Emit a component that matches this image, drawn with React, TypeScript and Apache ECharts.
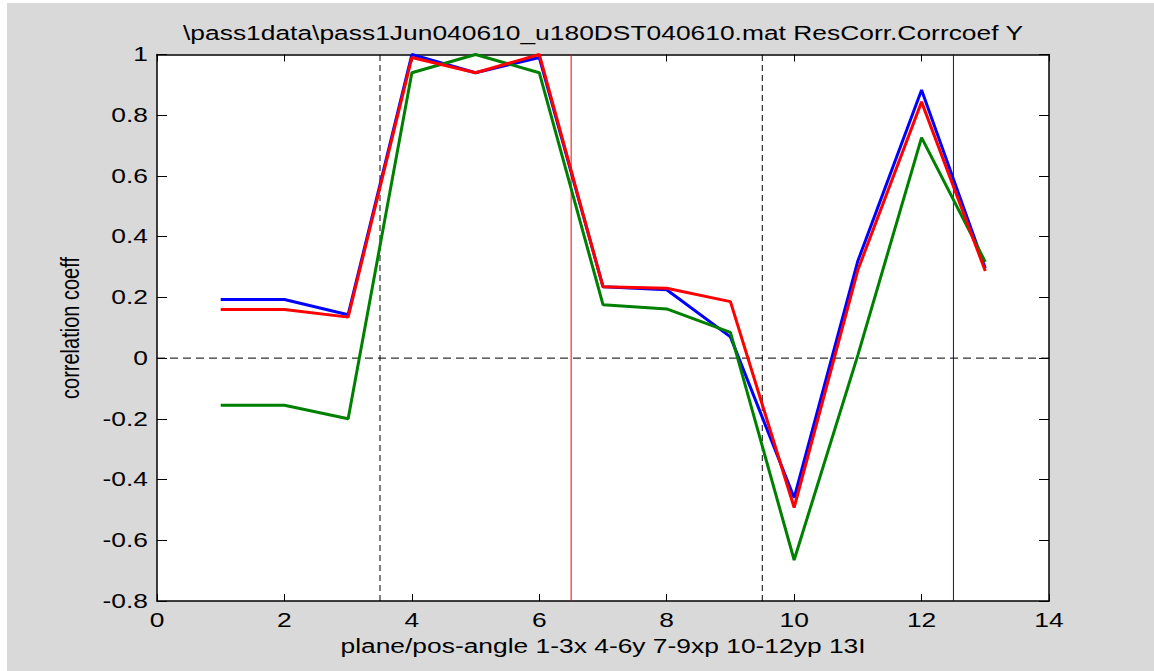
import React, { useEffect, useRef } from "react";
import * as echarts from "echarts";

const xs = [1, 2, 3, 4, 5, 6, 7, 8, 9, 10, 11, 12, 13];
const blueVals = [0.193, 0.193, 0.143, 1.0, 0.94, 0.99, 0.235, 0.225, 0.07, -0.46, 0.32, 0.883, 0.296];
const greenVals = [-0.155, -0.155, -0.2, 0.94, 1.0, 0.94, 0.176, 0.162, 0.085, -0.665, 0.01, 0.726, 0.317];
const redVals = [0.16, 0.16, 0.135, 0.99, 0.94, 1.0, 0.235, 0.23, 0.186, -0.492, 0.29, 0.844, 0.287];

const xTicks = [0, 2, 4, 6, 8, 10, 12, 14];
const yTicks = [-0.8, -0.6, -0.4, -0.2, 0, 0.2, 0.4, 0.6, 0.8, 1];
const yTickLabels = ["-0.8", "-0.6", "-0.4", "-0.2", "0", "0.2", "0.4", "0.6", "0.8", "1"];

const X_MIN = 0, X_MAX = 14, Y_MIN = -0.8, Y_MAX = 1;
const dashedV = [3.5, 9.5];
const redV = [6.5];
const blueV = [12.5];
const zeroH = [0];

const titleText = "\\pass1data\\pass1Jun040610_u180DST040610.mat ResCorr.Corrcoef Y";
const xLabel = "plane/pos-angle 1-3x 4-6y 7-9xp 10-12yp 13I";
const yLabel = "correlation coeff";

const FONT = "'Liberation Sans', Arial, sans-serif";
const FS = 20;
const SX = 1.32;

export default function App() {
  const ref = useRef<HTMLDivElement>(null);
  useEffect(() => {
    document.body.style.margin = "0";
    const chart = echarts.init(ref.current!, null, { renderer: "svg" });
    const axisLine = { show: true, onZero: false, lineStyle: { color: "#000", width: 1.5 } };
    const mkX = (pos: string) => ({
      type: "value", min: X_MIN, max: X_MAX, interval: 2, position: pos,
      axisLine, axisTick: { show: true, inside: true, length: 7, lineStyle: { color: "#000", width: 1 } },
      axisLabel: { show: false }, splitLine: { show: false },
    });
    const mkY = (pos: string) => ({
      type: "value", min: Y_MIN, max: Y_MAX, interval: 0.2, position: pos,
      axisLine, axisTick: { show: true, inside: true, length: 10, lineStyle: { color: "#000", width: 1 } },
      axisLabel: { show: false }, splitLine: { show: false },
    });
    const toData = (vals: number[]) => xs.map((x, i) => [x, vals[i]]);
    const lineSeries = (name: string, color: string, vals: number[], z: number) => ({
      name, type: "line", data: toData(vals), symbol: "none", z,
      lineStyle: { color, width: 3 }, itemStyle: { color },
    });
    const refSeries: any[] = [];
    const addV = (v: number, color: string, type: any) =>
      refSeries.push({
        type: "line", data: [[v, Y_MIN], [v, Y_MAX]], symbol: "none", z: 1, silent: true,
        itemStyle: { color }, lineStyle: { color, width: 1, type },
      });
    const addH = (v: number, color: string, type: any) =>
      refSeries.push({
        type: "line", data: [[X_MIN, v], [X_MAX, v]], symbol: "none", z: 1, silent: true,
        itemStyle: { color }, lineStyle: { color, width: 1, type },
      });
    dashedV.forEach((v) => addV(v, "#000000", [6, 4]));
    redV.forEach((v) => addV(v, "#ff0000", "solid"));
    blueV.forEach((v) => addV(v, "#0000ff", "solid"));
    zeroH.forEach((v) => addH(v, "#000000", [8, 5]));

    chart.setOption({
      animation: false,
      backgroundColor: "#d9d9d9",
      grid: { left: 157, right: 105, top: 54.5, bottom: 70, show: true, backgroundColor: "#fff", borderWidth: 0 },
      xAxis: [mkX("bottom"), mkX("top")],
      yAxis: [mkY("left"), mkY("right")],
      series: [
        ...refSeries,
        lineSeries("blue", "#0000ff", blueVals, 2),
        lineSeries("green", "#008000", greenVals, 3),
        lineSeries("red", "#ff0000", redVals, 4),
      ],
    });

    const graphics: any[] = [
      { type: "rect", shape: { x: 0, y: 0, width: 1154, height: 3 }, style: { fill: "#fff" }, silent: true },
      { type: "rect", shape: { x: 0, y: 0, width: 7, height: 671 }, style: { fill: "#fff" }, silent: true },
      {
        type: "text", x: 603, y: 33, scaleX: SX,
        style: { text: titleText, fontSize: FS, fontFamily: FONT, fill: "#000", align: "center", verticalAlign: "middle" },
      },
      {
        type: "text", x: 603, y: 646, scaleX: SX,
        style: { text: xLabel, fontSize: FS, fontFamily: FONT, fill: "#000", align: "center", verticalAlign: "middle" },
      },
      {
        type: "text", x: 70, y: 328, rotation: Math.PI / 2, scaleY: SX,
        style: { text: yLabel, fontSize: FS, fontFamily: FONT, fill: "#000", align: "center", verticalAlign: "middle" },
      },
    ];
    xTicks.forEach((t) => {
      const p = chart.convertToPixel({ gridIndex: 0 }, [t, Y_MIN]) as number[];
      graphics.push({
        type: "text", x: p[0], y: p[1] + 19, scaleX: SX,
        style: { text: String(t), fontSize: FS, fontFamily: FONT, fill: "#000", align: "center", verticalAlign: "middle" },
      });
    });
    yTicks.forEach((t, i) => {
      const p = chart.convertToPixel({ gridIndex: 0 }, [X_MIN, t]) as number[];
      graphics.push({
        type: "text", x: p[0] - 9, y: p[1], scaleX: SX,
        style: { text: yTickLabels[i], fontSize: FS, fontFamily: FONT, fill: "#000", align: "right", verticalAlign: "middle" },
      });
    });
    chart.setOption({ graphic: graphics });
    return () => chart.dispose();
  }, []);
  return <div ref={ref} style={{ position: "fixed", left: 0, top: 0, width: 1154, height: 671 }} />;
}
